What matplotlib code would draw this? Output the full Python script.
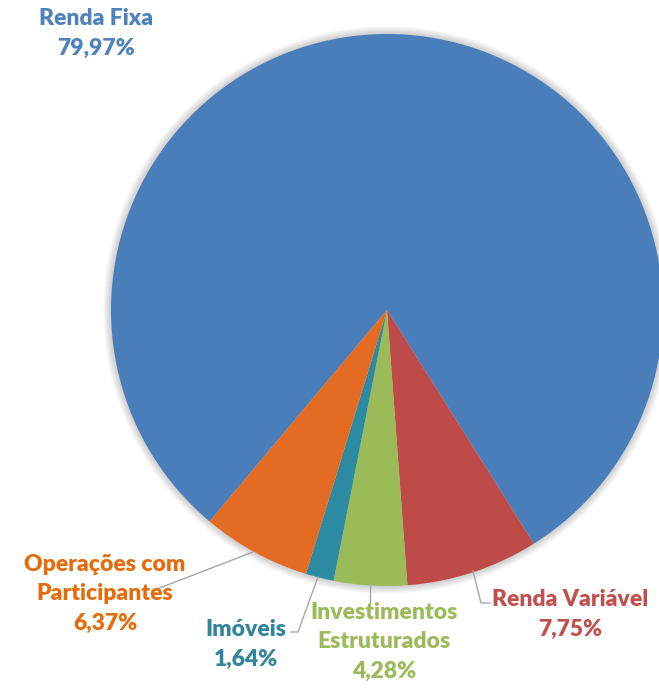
import matplotlib.pyplot as plt
from matplotlib.patches import Circle

# dados
categorias = ["Renda Fixa", "Renda Variável", "Investimentos\nEstruturados", "Imóveis",
              "Operações com\nParticipantes"]
valores = [79.97, 7.75, 4.28, 1.64, 6.37]
rotulos = ["79,97%", "7,75%", "4,28%", "1,64%", "6,37%"]
cores = ["#4A7EBB", "#BE4B48", "#9BBB59", "#2C8BA3", "#E46C22"]
cores_texto = ["#4F81BD", "#C0504D", "#9BBB59", "#31859C", "#E46C0A"]

W, H = 659, 691


def fy(y):
    # pixel de cima para baixo -> coordenada do eixo
    return H - y


fig = plt.figure(figsize=(W / 100, H / 100), dpi=100)
ax = fig.add_axes([0, 0, 1, 1])

cx, cy, r = 387, fy(310), 276

# sombra suave
for i in range(8):
    ax.add_patch(Circle((cx, cy), r + 1 + i, color="#000000", alpha=0.025, lw=0, zorder=0))

ax.pie(valores, colors=cores, startangle=230, counterclock=False, center=(cx, cy), radius=r,
       wedgeprops=dict(linewidth=0), frame=True)
ax.set_xlim(0, W)
ax.set_ylim(0, H)
ax.set_aspect("equal")
ax.axis("off")

# posicoes dos rotulos (centro da primeira linha)
pos_rotulos = [(96, 17), (570, 598), (384, 611), (246, 628), (105, 563)]
for cat, rot, cor, (x, y) in zip(categorias, rotulos, cores_texto, pos_rotulos):
    ax.text(x, fy(y - 9), cat + "\n" + rot, color=cor, fontsize=16.5, fontweight="heavy",
            family="Lato", ha="center", va="top", linespacing=1.5)

# linhas de chamada
linhas = [
    [(473, 571), (481, 603), (490, 603)],
    [(370, 585), (370, 606)],
    [(318, 577), (298, 632), (291, 632)],
    [(253, 552), (157, 589)],
]
for pts in linhas:
    ax.plot([p[0] for p in pts], [fy(p[1]) for p in pts], color="#A6A6A6", lw=1)

plt.savefig("out.png", dpi=100)
